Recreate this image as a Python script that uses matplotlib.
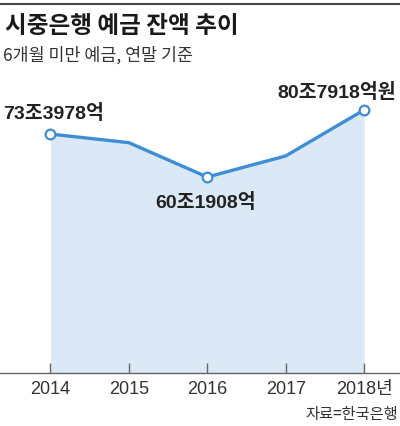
import matplotlib
matplotlib.use('Agg')
import matplotlib.pyplot as plt
from matplotlib.lines import Line2D

years = [2014, 2015, 2016, 2017, 2018]
balance = [73.3978, 70.75, 60.1908, 66.67, 80.7918]  # 조원
tick_labels = ['2014', '2015', '2016', '2017', '2018년']
marked = [0, 2, 4]
value_labels = ['73조3978억', '60조1908억', '80조7918억원']
label_offsets = [(3, 21), (-2, -25), (-27, 17)]

title = '시중은행 예금 잔액 추이'
subtitle = '6개월 미만 예금, 연말 기준'
source = '자료=한국은행'

kr = 'Noto Sans CJK KR'
num_fonts = ['Liberation Sans', kr]

line_color = '#3f8dd6'
fill_color = '#dbe8f5'

fig = plt.figure(figsize=(4, 4.26), dpi=100)
ax = fig.add_axes([0, 53 / 426, 1, 293 / 426])

ax.fill_between(years, balance, 0, color=fill_color, lw=0)
ax.plot(years, balance, color=line_color, lw=2.4, solid_joinstyle='miter', zorder=3)
ax.plot([years[i] for i in marked], [balance[i] for i in marked], 'o', ms=7,
        mfc='white', mec=line_color, mew=1.6, zorder=4)

for i, txt, off in zip(marked, value_labels, label_offsets):
    ax.annotate(txt, (years[i], balance[i]), xytext=off, textcoords='offset pixels',
                ha='center', va='center', fontsize=14, fontweight='bold',
                color='#222222', family=num_fonts)

ax.set_xlim(2013.356, 2018.459)
ax.set_ylim(0, 90)
for s in ['top', 'left', 'right']:
    ax.spines[s].set_visible(False)
ax.spines['bottom'].set_color('#666666')
ax.spines['bottom'].set_linewidth(1)
ax.set_yticks([])
ax.set_xticks(years)
ax.set_xticklabels(tick_labels, family=num_fonts, fontsize=13, color='#333333')
ax.tick_params(axis='x', direction='in', length=7.2, width=1, color='#666666', pad=6)
ax.patch.set_visible(False)

fig.add_artist(Line2D([0, 1], [1 - 4 / 426] * 2, color='#444444', lw=1.5))
fig.text(5 / 400, 1 - 26 / 426, title, fontsize=17, fontweight='bold', family=kr,
         color='#1a1a1a', va='center')
fig.text(3 / 400, 1 - 55 / 426, subtitle, fontsize=12.5, family=kr,
         color='#333333', va='center')
fig.text(398 / 400, 1 - 415 / 426, source, fontsize=11, family=kr,
         color='#333333', va='center', ha='right')

fig.savefig('out.png', dpi=100)
